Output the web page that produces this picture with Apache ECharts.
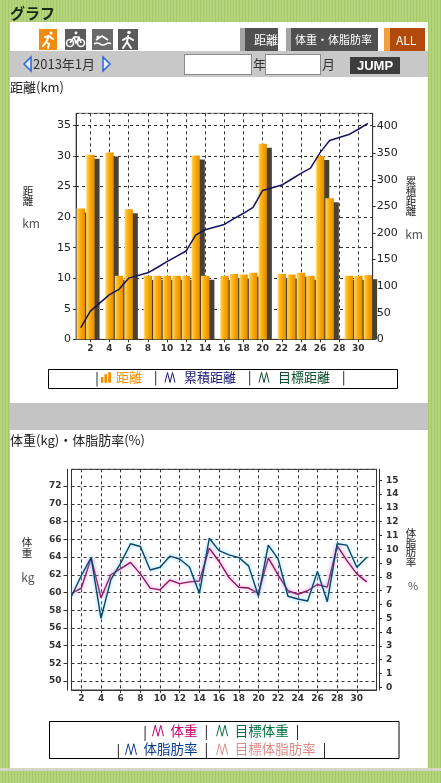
<!DOCTYPE html>
<html><head><meta charset="utf-8">
<script src="https://cdn.jsdelivr.net/npm/echarts@6/dist/echarts.min.js"></script>
<style>
html,body{margin:0;padding:0;width:441px;height:783px;overflow:hidden;font-family:"Noto Sans CJK JP",sans-serif;}
body{position:relative;background:repeating-linear-gradient(90deg,#b5d57c 0 2px,#a5c968 2px 3px);}
.abs{position:absolute;}
#panel{left:10px;top:22px;width:418px;height:746px;background:#fff;z-index:0;}
.btn{position:absolute;top:28px;height:23px;color:#fff;font-size:12px;line-height:23px;box-sizing:border-box;z-index:3;white-space:nowrap;overflow:hidden;}
.box{position:absolute;top:54px;height:21px;background:#fff;border:1px solid #8a8a8a;box-sizing:border-box;z-index:3;}
.t{position:absolute;z-index:3;color:#222;white-space:nowrap;}
#chart{position:absolute;left:0;top:0;width:441px;height:783px;z-index:2;}
</style></head>
<body>
<div class="t" style="left:10px;top:2px;font-size:15px;font-weight:bold;color:#1b2810;">グラフ</div>
<div id="panel" class="abs"></div>
<div class="abs" style="left:10px;top:51px;width:418px;height:26px;background:#c8c8c8;z-index:1;"></div>
<div class="abs" style="left:10px;top:403px;width:418px;height:27px;background:#c4c4c4;z-index:1;"></div>
<div class="abs" style="left:0;top:768px;width:441px;height:3px;background:#d6d6c8;z-index:1;"></div>
<svg class="abs" style="left:0;top:0;z-index:3" width="441" height="80">
  <rect x="39" y="29" width="18" height="21" fill="#f08c10"/>
  <g stroke="#fff" stroke-width="2" fill="none" stroke-linecap="round">
    <circle cx="51" cy="33" r="1.6" fill="#fff" stroke="none"/>
    <path d="M49,36 L46,42 M46,42 L49,44 L48,48 M46,42 L43,46 M49,36 L53,39 M49,36 L45,37"/>
  </g>
  <rect x="65" y="29" width="21" height="21" fill="#5c5c5c"/>
  <g stroke="#fff" stroke-width="1.6" fill="none">
    <circle cx="70" cy="43" r="3.5"/><circle cx="81" cy="43" r="3.5"/>
    <path d="M70,43 L74,37 L79,37 L81,43 M74,37 L76,43 L79,37"/>
    <circle cx="76" cy="33" r="1.4" fill="#fff" stroke="none"/>
  </g>
  <rect x="92" y="29" width="21" height="21" fill="#6a6a6a"/>
  <g stroke="#fff" stroke-width="1.6" fill="none">
    <path d="M94,44 Q97,42 100,44 T106,44 T111,44"/>
    <path d="M96,40 L102,36 L108,40"/>
    <circle cx="98" cy="37" r="1.5" fill="#fff" stroke="none"/>
  </g>
  <rect x="118" y="29" width="20" height="21" fill="#5a5a5a"/>
  <g stroke="#fff" stroke-width="2" fill="none" stroke-linecap="round">
    <circle cx="129" cy="32.5" r="1.8" fill="#fff" stroke="none"/>
    <path d="M128,36 L127,42 L123,48 M127,42 L131,48 M128,37 L123,40 M128,37 L133,40"/>
  </g>
  <polygon points="31,57 24,64 31,71" fill="#e6eeff" stroke="#2a66d8" stroke-width="1.5"/>
  <polygon points="103,57 110,64 103,71" fill="#e6eeff" stroke="#2a66d8" stroke-width="1.5"/>
</svg>
<div class="btn" style="left:240px;width:38px;background:#505050;border-left:5px solid #a4a4a4;padding-left:9px;">距離</div>
<div class="btn" style="left:286px;width:92px;background:#505050;border-left:5px solid #a4a4a4;padding-left:4px;font-size:11px;">体重・体脂肪率</div>
<div class="btn" style="left:384px;width:41px;background:#b24a0c;border-left:6px solid #f0a040;padding-left:6px;">ALL</div>
<div class="t" style="left:33px;top:55px;font-size:13px;line-height:18px;color:#333;">2013年1月</div>
<div class="box" style="left:184px;width:68px;"></div>
<div class="t" style="left:253px;top:55px;font-size:13px;line-height:18px;color:#333;">年</div>
<div class="box" style="left:265px;width:56px;"></div>
<div class="t" style="left:322px;top:55px;font-size:13px;line-height:18px;color:#333;">月</div>
<div class="t" style="left:350px;top:57px;width:50px;height:17px;background:#3c3c3c;color:#fff;font:bold 13px 'Liberation Sans',sans-serif;line-height:17px;text-align:center;">JUMP</div>
<div class="t" style="left:10px;top:78px;font-size:13px;line-height:18px;">距離(km)</div>
<div class="t" style="left:10px;top:431px;font-size:13px;line-height:18px;">体重(kg)・体脂肪率(%)</div>
<div id="chart"></div>
<script>
// ---- data ----
const days = [1,2,3,4,5,6,7,8,9,10,11,12,13,14,15,16,17,18,19,20,21,22,23,24,25,26,27,28,29,30,31];
const distance = [21.4,30.2,null,30.6,10.4,21.3,null,10.4,10.4,10.4,10.4,10.4,30.1,10.4,null,10.4,10.7,10.6,10.9,32.0,null,10.7,10.6,10.9,10.4,30.0,23.1,null,10.4,10.4,10.5];
const cumulative = [22,53,null,84,94,115,null,125,135,146,156,166,196,206,null,216,227,237,248,280,null,290,301,312,322,351,374,null,385,395,406];
const weight = [59.9,60.5,63.9,59.4,62.0,62.7,63.4,62.1,60.5,60.3,61.4,61.0,61.2,61.3,65.0,63.5,61.7,60.6,60.5,59.9,63.9,62.0,60.2,59.8,60.2,60.9,60.6,65.3,63.6,62.1,61.2];
const bodyFat = [6.6,8.1,9.4,5.0,7.8,9.0,10.4,10.2,8.5,8.7,9.5,9.3,8.7,6.8,10.8,9.9,9.6,9.4,8.8,6.6,10.3,9.3,6.6,6.4,6.25,8.4,6.2,10.4,10.3,8.7,9.4];
const legendTop = ['距離','累積距離','目標距離'];
const legendRow1 = ['体重','目標体重'];
const legendRow2 = ['体脂肪率','目標体脂肪率'];

// ---- styles ----
const colors = {'距離':'#f09000','累積距離':'#1a1a78','目標距離':'#0b4d2a','体重':'#c0006a','目標体重':'#007040','体脂肪率':'#0a3c8c','目標体脂肪率':'#e08a8a'};
const keys = {'距離':'a','累積距離':'b','目標距離':'c','体重':'d','目標体重':'e','体脂肪率':'f','目標体脂肪率':'g'};
const namePad = {'距離':0,'累積距離':4,'目標距離':4,'体重':2,'目標体重':2,'体脂肪率':2,'目標体脂肪率':2};
const zig = 'path://M0,10L2.5,0L5,10L7.5,0L10,10';
const barIcon = 'path://M0,5h2.6v6h-2.6z M3.6,2h3v9h-3z M7.6,0h3v11h-3z';
const CJK = '"Noto Sans CJK JP", sans-serif';
const NUM = '"DejaVu Sans", sans-serif';

function pairs(arr){ return days.map((d,i)=>[d, arr[i]]).filter(p=>p[1]!=null); }
function rich(fs, sepLeft){
  const r = {s:{color:'#000', padding:[0,0,0,sepLeft], fontSize:fs, fontFamily:CJK}};
  Object.keys(keys).forEach(n=>{ r[keys[n]] = {color:colors[n], fontSize:fs, fontFamily:CJK, padding:[0,0,0,namePad[n]]}; });
  return r;
}
function legendData(names){
  return names.map(n=>n==='距離'
    ? {name:n, icon:barIcon, itemStyle:{color:colors[n], borderWidth:0}}
    : {name:n, icon:zig, itemStyle:{color:'rgba(0,0,0,0)', borderColor:colors[n], borderWidth:1}});
}
function mkLegend(names, left, top, fs, sepLeft, gap, iw){
  return {left:left, top:top, padding:0, itemGap:gap, itemWidth:iw, itemHeight:11, selectedMode:false,
    data:legendData(names), formatter:n=>'{'+keys[n]+'|'+n+'}{s||}',
    textStyle:{fontSize:fs, fontFamily:CJK, rich:rich(fs, sepLeft)}};
}
const grad = new echarts.graphic.LinearGradient(0,0,1,0,[
  {offset:0,color:'#ffe68a'},{offset:0.18,color:'#ffc230'},{offset:0.6,color:'#f7a300'},{offset:1,color:'#e58c00'}]);
const dash = {show:true, lineStyle:{type:[3,3], color:'#333', width:1}};
const xCommon = {type:'value', minInterval:2, maxInterval:2, splitNumber:16,
  axisLine:{show:true, onZero:false, lineStyle:{color:'#333'}},
  axisTick:{show:true, length:3, lineStyle:{color:'#333'}},
  axisLabel:{showMinLabel:false, showMaxLabel:false, fontSize:9, fontWeight:'bold', color:'#333', fontFamily:NUM, margin:5},
  splitLine:dash};

const chart = echarts.init(document.getElementById('chart'), null, {width:441, height:783});
chart.setOption({
  animation:false,
  backgroundColor:'transparent',
  textStyle:{fontFamily:CJK},
  grid:[
    {left:76, top:113.3, width:296.7, height:226, show:true, borderColor:'#777', borderWidth:1, backgroundColor:'transparent'},
    {left:71.5, top:469.3, width:305, height:220.7, show:true, borderColor:'#333', borderWidth:1, backgroundColor:'transparent'}
  ],
  xAxis:[
    Object.assign({gridIndex:0, min:0.5, max:31.5}, xCommon),
    Object.assign({gridIndex:1, min:1, max:32}, xCommon, {axisLabel:Object.assign({}, xCommon.axisLabel, {margin:4})})
  ],
  yAxis:[
    {gridIndex:0, type:'value', min:0, max:37, interval:5, position:'left',
     axisLine:{show:true, lineStyle:{color:'#333'}}, axisTick:{show:true, length:3, lineStyle:{color:'#333'}},
     axisLabel:{showMaxLabel:false, fontSize:11, color:'#222', fontFamily:NUM, margin:5}, splitLine:dash},
    {gridIndex:0, type:'value', min:0, max:425, interval:50, position:'right',
     axisLine:{show:true, lineStyle:{color:'#333'}}, axisTick:{show:true, length:3, lineStyle:{color:'#333'}},
     axisLabel:{showMaxLabel:false, fontSize:11, color:'#222', fontFamily:NUM, margin:4}, splitLine:{show:false}},
    {gridIndex:1, type:'value', min:49, max:73.9, minInterval:2, maxInterval:2, splitNumber:12, position:'left', offset:4,
     axisLine:{show:true, lineStyle:{color:'#333'}}, axisTick:{show:true, length:4, lineStyle:{color:'#333'}},
     axisLabel:{showMinLabel:false, showMaxLabel:false, fontSize:9, fontWeight:'bold', color:'#333', fontFamily:NUM, margin:6}, splitLine:dash},
    {gridIndex:1, type:'value', min:-0.2, max:15.8, minInterval:1, maxInterval:1, splitNumber:16, position:'right', offset:2.5,
     axisLine:{show:true, lineStyle:{color:'#333'}}, axisTick:{show:true, length:3, lineStyle:{color:'#333'}},
     axisLabel:{showMinLabel:false, showMaxLabel:false, fontSize:9, fontWeight:'bold', color:'#333', fontFamily:NUM, margin:7}, splitLine:{show:false}}
  ],
  legend:[
    mkLegend(legendTop, 101, 371, 13, 12, 7, 10),
    mkLegend(legendRow1, 152, 724, 13.5, 7, 8, 11),
    mkLegend(legendRow2, 125, 742.5, 13.5, 7, 8, 11)
  ],
  series:[
    {name:'距離', type:'custom', xAxisIndex:0, yAxisIndex:0, z:2, clip:false,
     itemStyle:{color:colors['距離']},
     data:pairs(distance),
     renderItem:function(params, api){
       const x = api.value(0), v = api.value(1);
       const top = api.coord([x, v]); const base = api.coord([x, 0]);
       const w = api.size([1, 0])[0] * 0.88;
       const l = top[0] - w/2;
       const h = base[1] - top[1];
       return {type:'group', children:[
         {type:'rect', shape:{x:l+5, y:top[1]+4, width:w, height:Math.max(h-4,0)}, style:{fill:'#474233'}},
         {type:'rect', shape:{x:l, y:top[1], width:w, height:h}, style:{fill:grad}}
       ]};
     }},
    {name:'累積距離', type:'line', xAxisIndex:0, yAxisIndex:1, z:3, symbol:'none', data:pairs(cumulative),
     itemStyle:{color:'#141460'}, lineStyle:{color:'#141460', width:1.5}},
    {name:'目標距離', type:'line', xAxisIndex:0, yAxisIndex:1, symbol:'none', data:[], itemStyle:{color:colors['目標距離']}},
    {name:'体重', type:'line', xAxisIndex:1, yAxisIndex:2, z:3, symbol:'none', data:pairs(weight),
     itemStyle:{color:'#8a1560'}, lineStyle:{color:'#8a1560', width:1.4, shadowColor:'rgba(255,110,200,0.95)', shadowBlur:4}},
    {name:'体脂肪率', type:'line', xAxisIndex:1, yAxisIndex:3, z:3, symbol:'none', data:pairs(bodyFat),
     itemStyle:{color:'#0d4466'}, lineStyle:{color:'#0d4466', width:1.4, shadowColor:'rgba(110,215,255,0.95)', shadowBlur:4}},
    {name:'目標体重', type:'line', xAxisIndex:1, yAxisIndex:2, symbol:'none', data:[], itemStyle:{color:colors['目標体重']}},
    {name:'目標体脂肪率', type:'line', xAxisIndex:1, yAxisIndex:3, symbol:'none', data:[], itemStyle:{color:colors['目標体脂肪率']}}
  ],
  graphic:[
    {type:'rect', shape:{x:48.5, y:369.5, width:349, height:19}, style:{fill:'none', stroke:'#000', lineWidth:1}},
    {type:'text', x:97, y:378.5, style:{text:'|', fontSize:13, fontFamily:CJK, fill:'#000', align:'center', verticalAlign:'middle'}},
    {type:'rect', shape:{x:49.5, y:721.5, width:349.5, height:37}, style:{fill:'none', stroke:'#000', lineWidth:1}},
    {type:'text', x:145, y:731.7, style:{text:'|', fontSize:13.5, fontFamily:CJK, fill:'#000', align:'center', verticalAlign:'middle'}},
    {type:'text', x:118.3, y:750, style:{text:'|', fontSize:13.5, fontFamily:CJK, fill:'#000', align:'center', verticalAlign:'middle'}},
    {type:'text', x:28, y:186, style:{text:'距\n離', fontSize:10.5, lineHeight:10, fontFamily:CJK, fill:'#222', align:'center'}},
    {type:'text', x:31, y:223, style:{text:'km', fontSize:12, fontFamily:CJK, fill:'#555', align:'center', verticalAlign:'middle'}},
    {type:'text', x:411, y:176, style:{text:'累\n積\n距\n離', fontSize:10.5, lineHeight:10, fontFamily:CJK, fill:'#222', align:'center'}},
    {type:'text', x:414, y:234, style:{text:'km', fontSize:12, fontFamily:CJK, fill:'#555', align:'center', verticalAlign:'middle'}},
    {type:'text', x:27, y:537, style:{text:'体\n重', fontSize:10.5, lineHeight:10.5, fontFamily:CJK, fill:'#222', align:'center'}},
    {type:'text', x:28, y:577, style:{text:'kg', fontSize:12, fontFamily:CJK, fill:'#555', align:'center', verticalAlign:'middle'}},
    {type:'text', x:411, y:528, style:{text:'体\n脂\n肪\n率', fontSize:10.5, lineHeight:9.8, fontFamily:CJK, fill:'#222', align:'center'}},
    {type:'text', x:413, y:586, style:{text:'%', fontSize:11, fontFamily:CJK, fill:'#555', align:'center', verticalAlign:'middle'}}
  ]
});
</script>
</body></html>
